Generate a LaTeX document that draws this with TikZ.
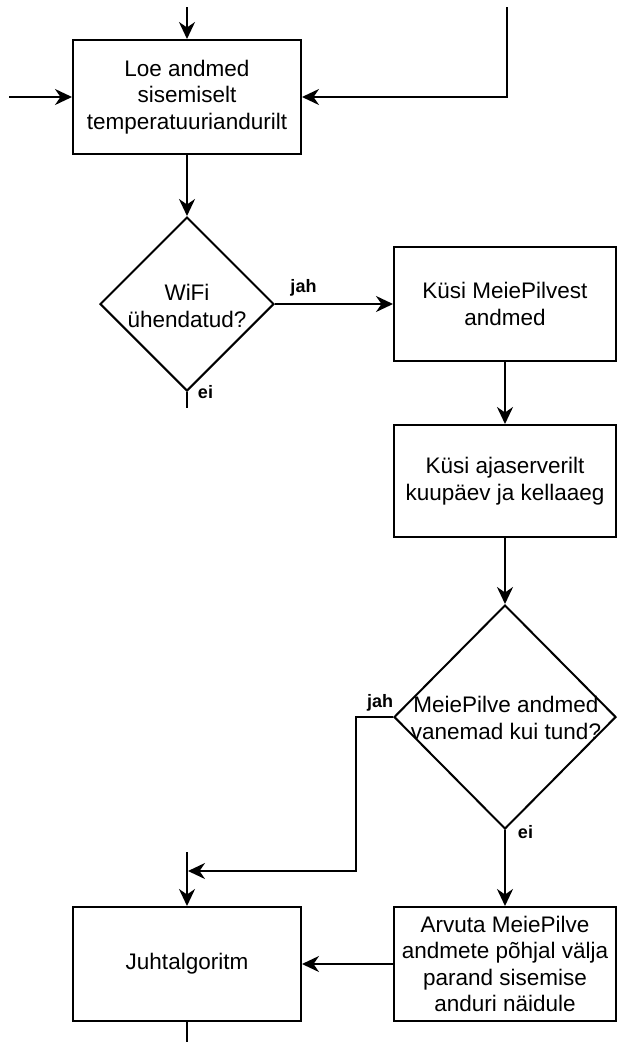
\documentclass[tikz,border=0pt]{standalone}
\usepackage{fontspec}
\setmainfont{Liberation Sans}
\usetikzlibrary{arrows.meta,shapes.geometric}

\begin{document}
\begin{tikzpicture}[x=1pt,y=-1pt,
  line width=2pt,
  every node/.style={line width=2pt},
  procbox/.style={draw, rectangle, align=center, inner sep=0pt,
    font=\fontsize{22.5}{26.5}\selectfont},
  decision/.style={draw, diamond, inner sep=0pt},
  decisiontext/.style={align=center, inner sep=0pt,
    font=\fontsize{22.5}{26.5}\selectfont},
  branchlabel/.style={anchor=base, inner sep=0pt,
    font=\fontsize{18}{20}\selectfont\bfseries},
  arr/.style={-{Stealth[length=17pt,width=16pt,inset=5.5pt]}}
]
\useasboundingbox (0,0) rectangle (617,1042);

% process steps
\node[procbox, minimum width=228pt, minimum height=114pt] (read) at (187,97)
  {Loe andmed\\sisemiselt\\temperatuuriandurilt};
\node[procbox, minimum width=222pt, minimum height=114pt] (cloud) at (505,304)
  {Küsi MeiePilvest\\andmed};
\node[procbox, minimum width=222pt, minimum height=112pt] (time) at (505,481)
  {Küsi ajaserverilt\\kuupäev ja kellaaeg};
\node[procbox, minimum width=228pt, minimum height=114pt] (ctrl) at (187,964)
  {Juhtalgoritm};
\node[procbox, minimum width=222pt, minimum height=114pt] (corr) at (505,964)
  {Arvuta MeiePilve\\andmete põhjal välja\\parand sisemise\\anduri näidule};

% decisions
\node[decision, minimum width=174pt, minimum height=174pt] (wifi) at (187,304) {};
\node[decisiontext] (wifitxt) at (187,306) {WiFi\\ühendatud?};
\node[decision, minimum width=222pt, minimum height=224pt] (age) at (505,717) {};
\node[decisiontext] (agetxt) at (506,718) {MeiePilve andmed\\vanemad kui tund?};

% loose ends of connectors
\coordinate (intop) at (187,7);
\coordinate (inleft) at (9,97);
\coordinate (inright) at (507,7);
\coordinate (wifino) at (187,408);
\coordinate (agebend) at (356,717);
\coordinate (merge) at (188,871);
\coordinate (mergetop) at (187,852);
\coordinate (outbottom) at (187,1042);

% connectors
\draw[arr] (intop) -- (read.north);
\draw[arr] (inleft) -- (read.west);
\draw[arr] (inright) |- (read.east);
\draw[arr] (read.south) -- (wifi.north);
\draw[arr] (wifi.east) -- (cloud.west);
\draw (wifi.south) -- (wifino);
\draw[arr] (cloud.south) -- (time.north);
\draw[arr] (time.south) -- (age.north);
\draw[arr] (age.west) -- (agebend) |- (merge);
\draw[arr] (mergetop) -- (ctrl.north);
\draw[arr] (age.south) -- (corr.north);
\draw[arr] (corr.west) -- (ctrl.east);
\draw (ctrl.south) -- (outbottom);

% branch labels
\node[branchlabel] (lblwifiyes) at (303.5,292) {jah};
\node[branchlabel] (lblwifino) at (205.5,398) {ei};
\node[branchlabel] (lblageyes) at (380,707) {jah};
\node[branchlabel] (lblageno) at (525.5,838) {ei};
\end{tikzpicture}
\end{document}
